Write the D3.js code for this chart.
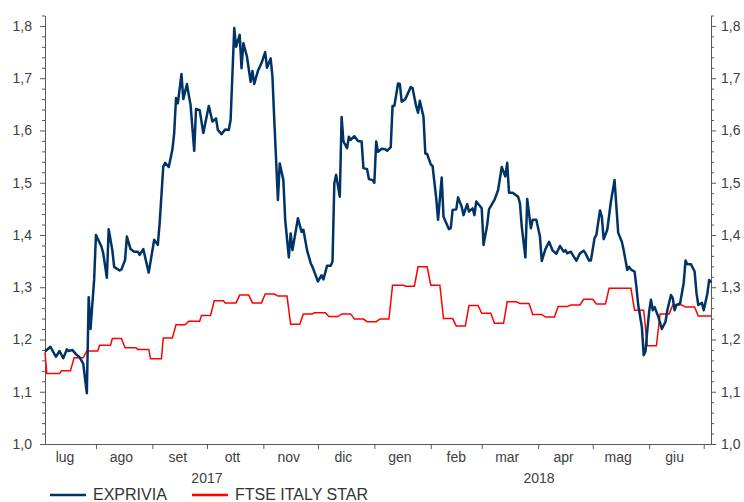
<!DOCTYPE html>
<html>
<head>
<meta charset="utf-8">
<script src="https://cdn.jsdelivr.net/npm/d3@7"></script>
<style>
  body { margin: 0; background: #fff; }
  svg { display: block; font-family: "Liberation Sans", Arial, sans-serif; }
  .axis path, .axis line { stroke: #595959; }
  .axis text { fill: #404040; font-size: 14px; }
</style>
</head>
<body>
<div id="chart"></div>
<script>
// EXPRIVIA, daily closes
var expDates = ["2017-07-04","2017-07-07","2017-07-10","2017-07-12","2017-07-14","2017-07-16","2017-07-17","2017-07-19","2017-07-21","2017-07-23","2017-07-25","2017-07-27","2017-07-28","2017-07-29","2017-07-31",
  "2017-08-01","2017-08-04","2017-08-05","2017-08-07","2017-08-08","2017-08-10","2017-08-11","2017-08-14","2017-08-15","2017-08-17","2017-08-18","2017-08-20","2017-08-22","2017-08-24","2017-08-25","2017-08-27","2017-08-30","2017-08-31",
  "2017-09-02","2017-09-04","2017-09-05","2017-09-07","2017-09-08","2017-09-10","2017-09-12","2017-09-13","2017-09-14","2017-09-15","2017-09-17","2017-09-18","2017-09-20","2017-09-21","2017-09-22","2017-09-24","2017-09-25","2017-09-27","2017-09-29",
  "2017-10-02","2017-10-04","2017-10-06","2017-10-07","2017-10-09","2017-10-11","2017-10-13","2017-10-14","2017-10-16","2017-10-17","2017-10-19","2017-10-20","2017-10-21","2017-10-23","2017-10-25","2017-10-26","2017-10-27","2017-10-29","2017-10-31",
  "2017-11-02","2017-11-03","2017-11-05","2017-11-06","2017-11-07","2017-11-09","2017-11-10","2017-11-12","2017-11-13","2017-11-15","2017-11-16","2017-11-17","2017-11-20","2017-11-22","2017-11-23","2017-11-25","2017-11-27","2017-11-28",
  "2017-12-01","2017-12-03","2017-12-04","2017-12-06","2017-12-08","2017-12-09","2017-12-10","2017-12-11","2017-12-13","2017-12-14","2017-12-15","2017-12-17","2017-12-18","2017-12-19","2017-12-21","2017-12-23","2017-12-25","2017-12-26","2017-12-28","2017-12-29","2017-12-31",
  "2018-01-01","2018-01-02","2018-01-03","2018-01-05","2018-01-07","2018-01-08","2018-01-10","2018-01-11","2018-01-12","2018-01-14","2018-01-15","2018-01-16","2018-01-18","2018-01-21","2018-01-22","2018-01-24","2018-01-25","2018-01-26","2018-01-28","2018-01-29","2018-01-30",
  "2018-02-01","2018-02-02","2018-02-04","2018-02-05","2018-02-07","2018-02-08","2018-02-11","2018-02-12","2018-02-13","2018-02-15","2018-02-16","2018-02-18","2018-02-19","2018-02-21","2018-02-22","2018-02-24","2018-02-25","2018-02-26",
  "2018-03-01","2018-03-02","2018-03-04","2018-03-05","2018-03-08","2018-03-10","2018-03-12","2018-03-14","2018-03-15","2018-03-16","2018-03-18","2018-03-21","2018-03-22","2018-03-23","2018-03-25","2018-03-26","2018-03-28","2018-03-29","2018-03-31",
  "2018-04-02","2018-04-03","2018-04-05","2018-04-07","2018-04-09","2018-04-11","2018-04-13","2018-04-15","2018-04-16","2018-04-17","2018-04-19","2018-04-20","2018-04-22","2018-04-24","2018-04-26","2018-04-27","2018-04-29","2018-04-30",
  "2018-05-02","2018-05-03","2018-05-05","2018-05-06","2018-05-07","2018-05-09","2018-05-11","2018-05-13","2018-05-15","2018-05-17","2018-05-18","2018-05-20","2018-05-21","2018-05-22","2018-05-24","2018-05-25","2018-05-26","2018-05-28","2018-05-29","2018-05-30","2018-05-31",
  "2018-06-01","2018-06-02","2018-06-03","2018-06-04","2018-06-06","2018-06-08","2018-06-10","2018-06-11","2018-06-13","2018-06-14","2018-06-15","2018-06-16","2018-06-18","2018-06-20","2018-06-21","2018-06-22","2018-06-24","2018-06-26","2018-06-27","2018-06-28","2018-06-30",
  "2018-07-01","2018-07-03","2018-07-04","2018-07-05"];
var expValues = [1.177,1.186,1.167,1.178,1.164,1.181,1.178,1.18,1.172,1.166,1.154,1.097,1.281,1.22,1.314,
  1.40,1.378,1.365,1.318,1.411,1.371,1.339,1.332,1.334,1.352,1.397,1.373,1.368,1.368,1.362,1.373,1.328,1.349,
  1.391,1.381,1.422,1.531,1.538,1.53,1.563,1.595,1.662,1.652,1.708,1.66,1.689,1.668,1.649,1.561,1.641,1.639,1.595,
  1.647,1.617,1.623,1.601,1.593,1.602,1.601,1.62,1.796,1.76,1.783,1.719,1.767,1.741,1.693,1.714,1.689,1.714,1.729,
  1.75,1.72,1.738,1.703,1.62,1.467,1.537,1.505,1.429,1.357,1.403,1.371,1.432,1.406,1.41,1.371,1.346,1.339,
  1.311,1.323,1.315,1.341,1.341,1.349,1.499,1.515,1.473,1.626,1.579,1.566,1.588,1.582,1.589,1.58,1.579,1.528,1.526,1.507,1.505,
  1.50,1.579,1.559,1.565,1.564,1.561,1.568,1.647,1.647,1.69,1.689,1.655,1.66,1.683,1.681,1.646,1.634,1.657,1.626,1.556,1.555,
  1.535,1.532,1.47,1.429,1.51,1.435,1.411,1.413,1.448,1.449,1.472,1.454,1.438,1.459,1.445,1.451,1.438,1.464,
  1.451,1.381,1.419,1.449,1.467,1.486,1.53,1.512,1.538,1.481,1.481,1.473,1.461,1.416,1.357,1.469,1.413,1.429,1.429,
  1.397,1.35,1.373,1.387,1.37,1.364,1.379,1.368,1.371,1.365,1.368,1.362,1.351,1.365,1.37,1.365,1.351,1.351,
  1.394,1.40,1.447,1.435,1.392,1.41,1.464,1.505,1.404,1.387,1.371,1.333,1.339,1.334,1.33,1.301,1.266,1.224,1.17,1.177,1.218,
  1.253,1.276,1.256,1.262,1.244,1.22,1.234,1.256,1.285,1.279,1.256,1.266,1.269,1.308,1.351,1.344,1.344,1.33,1.29,1.266,1.27,
  1.256,1.288,1.314,1.309];

// FTSE ITALY STAR (rebased), moves in weekly steps
var starDates = ["2017-07-04","2017-07-05","2017-07-12","2017-07-13","2017-07-18","2017-07-20","2017-07-25","2017-07-27",
  "2017-08-02","2017-08-03","2017-08-09","2017-08-10","2017-08-15","2017-08-17","2017-08-23","2017-08-24","2017-08-30","2017-08-31",
  "2017-09-06","2017-09-07","2017-09-12","2017-09-14","2017-09-19","2017-09-21","2017-09-27","2017-09-28",
  "2017-10-03","2017-10-05","2017-10-10","2017-10-11","2017-10-17","2017-10-19","2017-10-24","2017-10-26","2017-10-31",
  "2017-11-02","2017-11-07","2017-11-09","2017-11-14","2017-11-16","2017-11-21","2017-11-23","2017-11-28","2017-11-29",
  "2017-12-05","2017-12-07","2017-12-12","2017-12-14","2017-12-19","2017-12-21","2017-12-26","2017-12-28",
  "2018-01-02","2018-01-04","2018-01-09","2018-01-11","2018-01-17","2018-01-18","2018-01-23","2018-01-25","2018-01-30",
  "2018-02-01","2018-02-06","2018-02-08","2018-02-13","2018-02-15","2018-02-20","2018-02-22","2018-02-27",
  "2018-03-01","2018-03-06","2018-03-08","2018-03-13","2018-03-15","2018-03-20","2018-03-22","2018-03-27","2018-03-29",
  "2018-04-03","2018-04-05","2018-04-10","2018-04-12","2018-04-17","2018-04-19","2018-04-24","2018-04-26",
  "2018-05-01","2018-05-03","2018-05-08","2018-05-10","2018-05-22","2018-05-24","2018-05-29","2018-05-31",
  "2018-06-05","2018-06-07","2018-06-12","2018-06-14","2018-06-19","2018-06-21","2018-06-26","2018-06-28","2018-07-05"];
var starValues = [1.175,1.135,1.135,1.14,1.14,1.165,1.165,1.178,
  1.178,1.189,1.189,1.202,1.202,1.184,1.184,1.181,1.181,1.163,
  1.163,1.203,1.203,1.228,1.228,1.235,1.235,1.246,
  1.246,1.274,1.274,1.27,1.27,1.285,1.285,1.27,1.27,
  1.287,1.287,1.283,1.283,1.229,1.229,1.249,1.249,1.251,
  1.251,1.244,1.244,1.249,1.249,1.239,1.239,1.234,
  1.234,1.239,1.239,1.304,1.304,1.302,1.302,1.339,1.339,
  1.304,1.304,1.24,1.24,1.226,1.226,1.265,1.265,
  1.25,1.25,1.231,1.231,1.272,1.272,1.269,1.269,1.248,
  1.248,1.243,1.243,1.263,1.263,1.266,1.266,1.277,
  1.277,1.268,1.268,1.298,1.298,1.256,1.256,1.188,
  1.188,1.249,1.249,1.266,1.266,1.262,1.262,1.245,1.245];

var seriesNames = ["EXPRIVIA", "FTSE ITALY STAR"];
var monthNames = ["lug","ago","set","ott","nov","dic","gen","feb","mar","apr","mag","giu"];
var yearLabels = ["2017", "2018"];
var yMajor = [1.0, 1.1, 1.2, 1.3, 1.4, 1.5, 1.6, 1.7, 1.8];

function drawChart() {
  var width = 744, height = 502;
  var plotLeft = 45, plotRight = 711, plotTop = 15.5, plotBottom = 444;
  var blue = "#003366", red = "#ff0000";

  var parse = d3.timeParse("%Y-%m-%d");
  var exp = expDates.map(function(d, i) { return {date: parse(d), value: expValues[i]}; });
  var star = starDates.map(function(d, i) { return {date: parse(d), value: starValues[i]}; });

  var x = d3.scaleTime()
            .domain([parse("2017-07-04"), parse("2018-07-05")])
            .range([plotLeft, plotRight]);
  var y = d3.scaleLinear()
            .domain([1.0, 1.82])
            .range([plotBottom, plotTop]);

  var svg = d3.select("#chart").append("svg")
              .attr("width", width)
              .attr("height", height);

  // y axes (left and right), minor ticks every 0,02
  var yMinor = d3.range(1.0, 1.821, 0.02).filter(function(v) {
    return Math.abs(v * 10 - Math.round(v * 10)) > 0.01;
  });
  var fmt = function(v) { return d3.format(".1f")(v).replace(".", ","); };

  svg.append("g").attr("class", "axis")
     .attr("transform", "translate(" + plotLeft + ",0)")
     .call(d3.axisLeft(y).tickValues(yMinor).tickSize(3).tickSizeOuter(0).tickFormat(""));
  svg.append("g").attr("class", "axis")
     .attr("transform", "translate(" + plotLeft + ",0)")
     .call(d3.axisLeft(y).tickValues(yMajor).tickSize(5).tickSizeOuter(0).tickPadding(8).tickFormat(fmt));

  svg.append("g").attr("class", "axis")
     .attr("transform", "translate(" + plotRight + ",0)")
     .call(d3.axisRight(y).tickValues(yMinor).tickSize(3).tickSizeOuter(0).tickFormat(""));
  svg.append("g").attr("class", "axis")
     .attr("transform", "translate(" + plotRight + ",0)")
     .call(d3.axisRight(y).tickValues(yMajor).tickSize(5).tickSizeOuter(0).tickPadding(5).tickFormat(fmt));

  // x axis: ticks on month starts, names mid month
  var monthStarts = d3.timeMonth.range(parse("2017-08-01"), parse("2018-07-02"));
  svg.append("g").attr("class", "axis")
     .attr("transform", "translate(0," + plotBottom + ")")
     .call(d3.axisBottom(x).tickValues(monthStarts).tickSize(5).tickSizeOuter(0).tickFormat(""));

  var monthMid = d3.timeMonth.range(parse("2017-07-01"), parse("2018-07-01")).map(function(m) {
    return d3.timeDay.offset(m, 14);
  });
  svg.append("g").selectAll("text")
     .data(monthMid)
     .enter().append("text")
     .attr("x", function(d) { return x(d); })
     .attr("y", 462)
     .attr("text-anchor", "middle")
     .style("font-size", "14px")
     .style("fill", "#404040")
     .text(function(d, i) { return monthNames[i]; });

  var yearSpans = [[parse("2017-07-01"), parse("2018-01-01")], [parse("2018-01-01"), parse("2018-07-01")]];
  svg.append("g").selectAll("text")
     .data(yearSpans)
     .enter().append("text")
     .attr("x", function(d) { return (x(d[0]) + x(d[1])) / 2; })
     .attr("y", 483)
     .attr("text-anchor", "middle")
     .style("font-size", "14px")
     .style("fill", "#404040")
     .text(function(d, i) { return yearLabels[i]; });

  // lines
  var line = d3.line()
               .x(function(d) { return x(d.date); })
               .y(function(d) { return y(d.value); });

  svg.append("path")
     .attr("d", line(star))
     .attr("fill", "none")
     .attr("stroke", red)
     .attr("stroke-width", 1.5);

  svg.append("path")
     .attr("d", line(exp))
     .attr("fill", "none")
     .attr("stroke", blue)
     .attr("stroke-width", 2.5)
     .attr("stroke-linejoin", "round");

  // legend
  var legendX = [50, 192];
  var legend = svg.append("g").selectAll("g")
                  .data(seriesNames)
                  .enter().append("g")
                  .attr("transform", function(d, i) { return "translate(" + legendX[i] + ",0)"; });
  legend.append("line")
        .attr("x1", 0).attr("x2", 36)
        .attr("y1", 495).attr("y2", 495)
        .attr("stroke", function(d, i) { return i ? red : blue; })
        .attr("stroke-width", 2.5);
  legend.append("text")
        .attr("x", 43)
        .attr("y", 500)
        .style("font-size", "16px")
        .style("fill", "#333")
        .text(function(d) { return d; });
}

drawChart();
</script>
</body>
</html>
